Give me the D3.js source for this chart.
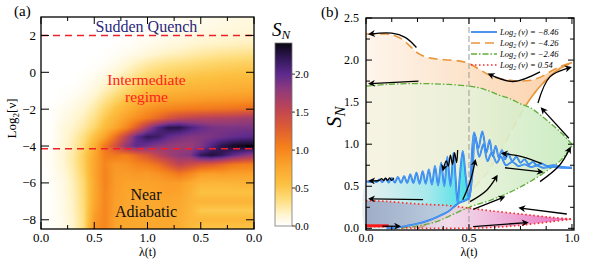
<!DOCTYPE html>
<html>
<head>
<meta charset="utf-8">
<script src="https://cdn.jsdelivr.net/npm/d3@7"></script>
<style>
  body { margin: 0; background: #fff; }
  svg { display: block; }
  svg text { font-family: "Liberation Serif", "DejaVu Serif", "Times New Roman", serif; }
</style>
</head>
<body>
<svg class="fig" width="607" height="260"></svg>
<script>
// ---------- panel (a) data : S_N ----------
const heatX = [0, 0.1, 0.2, 0.3, 0.4, 0.5, 0.6, 0.7, 0.8, 0.9, 1.0, 1.1, 1.2, 1.3, 1.4, 1.5, 1.6, 1.7, 1.8, 1.9, 2.0];
const heatY = [3, 2.5, 2, 1.5, 1, 0.5, 0, -0.5, -1, -1.5, -2, -2.5, -3, -3.5, -4, -4.5, -5, -5.5, -6, -6.5, -7, -7.5, -8, -8.5];
const heat = [
  [0,0,0,0,0,0,0,0,0,0,.01,.02,.03,.04,.05,.06,.07,.08,.09,.10,.10],
  [0,0,0,0,0,0,0,0,0,0,.02,.03,.04,.05,.06,.07,.08,.09,.10,.11,.12],
  [0,0,0,0,0,0,0,0,0,.02,.03,.04,.06,.07,.08,.10,.11,.12,.13,.14,.15],
  [0,0,0,0,0,0,0,.01,.02,.04,.06,.08,.10,.12,.14,.16,.17,.18,.19,.20,.20],
  [0,0,0,0,0,0,.01,.03,.05,.08,.12,.15,.18,.20,.23,.25,.27,.29,.30,.31,.32],
  [0,0,0,0,0,.01,.03,.06,.12,.18,.24,.28,.31,.33,.35,.38,.40,.42,.43,.44,.45],
  [0,0,0,0,.01,.03,.07,.13,.20,.28,.35,.39,.42,.45,.47,.49,.50,.52,.53,.54,.55],
  [0,0,0,0,.03,.07,.13,.21,.30,.38,.45,.50,.53,.55,.57,.59,.60,.62,.63,.64,.65],
  [0,0,.01,.02,.05,.11,.20,.30,.40,.50,.58,.62,.65,.67,.69,.70,.71,.72,.73,.74,.75],
  [0,0,.02,.05,.10,.18,.30,.42,.55,.65,.72,.77,.80,.82,.84,.86,.87,.88,.89,.90,.92],
  [0,.01,.05,.09,.15,.25,.40,.55,.68,.80,.90,.97,1.02,1.05,1.07,1.09,1.10,1.12,1.14,1.17,1.20],
  [0,.01,.07,.12,.20,.32,.50,.66,.82,.95,1.08,1.22,1.38,1.50,1.56,1.60,1.62,1.64,1.66,1.70,1.72],
  [0,.02,.10,.16,.25,.40,.60,.78,.98,1.30,1.70,2.05,2.25,2.25,2.10,1.98,1.90,1.88,1.88,1.88,1.88],
  [0,.02,.10,.20,.33,.55,.80,1.15,1.55,2.00,2.20,2.15,1.98,1.90,1.85,1.85,1.88,1.92,1.97,2.00,2.02],
  [.01,.03,.12,.22,.38,.68,1.10,1.40,1.80,2.00,1.92,1.82,1.78,1.75,1.75,1.85,2.05,2.25,2.35,2.40,2.40],
  [.01,.04,.13,.25,.45,.75,1.05,1.10,1.05,1.20,1.35,1.55,1.70,1.80,1.85,2.20,2.30,2.20,2.00,1.85,1.75],
  [.01,.04,.12,.25,.45,.78,1.00,.88,.92,1.00,1.05,1.15,1.35,1.55,1.45,1.35,1.30,1.20,1.10,1.05,1.05],
  [0,.03,.10,.22,.42,.78,1.02,.86,.85,.88,.86,.92,1.00,1.10,1.00,.85,.82,.85,.82,.82,.82],
  [0,.03,.08,.20,.38,.75,1.02,.85,.80,.80,.80,.82,.84,.84,.75,.66,.66,.66,.66,.68,.68],
  [0,.02,.08,.19,.37,.75,1.00,.84,.78,.78,.78,.80,.82,.80,.70,.55,.55,.55,.55,.55,.55],
  [0,.02,.07,.18,.36,.76,1.00,.82,.78,.76,.76,.76,.78,.76,.68,.66,.66,.66,.66,.66,.66],
  [0,.02,.07,.17,.35,.80,1.00,.82,.78,.76,.76,.76,.76,.74,.65,.50,.50,.50,.50,.50,.50],
  [0,.02,.06,.16,.34,.85,1.00,.80,.77,.76,.76,.76,.76,.72,.64,.64,.64,.64,.64,.64,.64],
  [0,.02,.06,.15,.33,.90,1.00,.80,.77,.76,.76,.76,.75,.72,.62,.52,.52,.52,.52,.52,.52]
];
const regimeLines = [2, -4.15];
const xTicksA = [0, 0.25, 0.5, 0.75, 1, 1.25, 1.5, 1.75, 2];
const yTicksA = [-8, -6, -4, -2, 0, 2];
const cbTicks = [0, 0.5, 1, 1.5, 2];

// ---------- panel (b) data ----------
const legendNu = [-8.46, -4.26, -2.46, 0.54];
const orangeBack = [[0,2.31],[0.05,2.31],[0.1,2.31],[0.14,2.29],[0.18,2.24],[0.22,2.15],[0.26,2.07],[0.3,2.03],[0.35,2.01],[0.4,2.0],[0.45,1.99],[0.5,1.96],[0.55,1.89],[0.6,1.82],[0.65,1.78],[0.7,1.76],[0.75,1.75],[0.8,1.76],[0.85,1.8],[0.9,1.87],[0.95,1.93],[1.0,1.97]];
const orangeFwd = [[0.25,0],[0.3,0.05],[0.35,0.12],[0.4,0.23],[0.45,0.33],[0.5,0.42],[0.55,0.55],[0.6,0.7],[0.65,0.9],[0.7,1.13],[0.75,1.35],[0.8,1.55],[0.85,1.7],[0.9,1.82],[0.95,1.91],[1.0,1.97]];
const greenBack = [[0,1.69],[0.1,1.71],[0.2,1.72],[0.3,1.72],[0.4,1.71],[0.5,1.69],[0.55,1.67],[0.6,1.63],[0.65,1.58],[0.7,1.54],[0.75,1.48],[0.8,1.43],[0.85,1.34],[0.9,1.24],[0.95,1.13],[1.0,1.0]];
const greenFwd = [[0.17,0],[0.25,0.03],[0.33,0.07],[0.4,0.14],[0.5,0.25],[0.6,0.33],[0.7,0.43],[0.8,0.56],[0.9,0.72],[0.95,0.82],[1.0,0.98]];
const redBack = [[0,0.33],[0.1,0.32],[0.25,0.29],[0.4,0.27],[0.5,0.24],[0.6,0.21],[0.75,0.17],[0.9,0.13],[1.0,0.11]];
const redFwd = [[0,0.02],[0.1,0.02],[0.2,0.005],[0.3,0],[0.5,0],[0.6,0.01],[0.7,0.025],[0.8,0.05],[0.9,0.08],[1.0,0.11]];
const redStart = [[0,0.03],[0.11,0.03]];
const blueFwd = [[0.1,0],[0.15,0.01],[0.2,0.03],[0.25,0.055],[0.3,0.09],[0.35,0.14],[0.4,0.2],[0.45,0.3],[0.48,0.33],[0.5,0.36],[0.51,0.7],[0.525,1.14],[0.545,0.95],[0.565,1.15],[0.585,0.9],[0.6,1.05],[0.615,0.86],[0.63,0.98],[0.645,0.84],[0.66,0.93],[0.675,0.82],[0.69,0.89],[0.71,0.8],[0.73,0.85],[0.75,0.78],[0.77,0.82],[0.79,0.76],[0.81,0.79],[0.83,0.75],[0.85,0.77],[0.88,0.74],[0.91,0.75],[0.95,0.73],[1.0,0.72]];
const blueBack = [[1.0,0.72],[0.95,0.72],[0.9,0.73],[0.86,0.72],[0.83,0.745],[0.8,0.73],[0.77,0.76],[0.74,0.74],[0.71,0.79],[0.68,0.75],[0.655,0.85],[0.635,0.78],[0.61,0.9],[0.59,0.8],[0.57,1.0],[0.55,0.85],[0.53,1.1],[0.515,0.6],[0.5,0.35],[0.485,0.6],[0.47,0.92],[0.455,0.6],[0.445,0.3],[0.435,0.6],[0.425,0.9],[0.41,0.5],[0.395,0.85],[0.38,0.5],[0.365,0.78],[0.35,0.51],[0.335,0.74],[0.32,0.52],[0.305,0.7],[0.29,0.53],[0.275,0.68],[0.26,0.53],[0.245,0.66],[0.23,0.54],[0.215,0.64],[0.2,0.54],[0.185,0.62],[0.17,0.54],[0.155,0.61],[0.14,0.545],[0.125,0.6],[0.11,0.545],[0.095,0.59],[0.08,0.55],[0.065,0.58],[0.05,0.55],[0.035,0.57],[0.02,0.55],[0,0.56]];
const arrows = [
  [[0.245,2.15],[0.19,2.27],[0.125,2.32],[0.02,2.31]],
  [[0.255,1.75],[0.02,1.72]],
  [[0.845,1.86],[0.715,1.745],[0.6,1.83]],
  [[0.835,1.49],[0.893,1.8],[0.99,1.91]],
  [[0.985,1.07],[0.855,1.42]],
  [[0.845,0.555],[0.94,0.75],[0.99,0.95]],
  [[0.853,0.77],[0.76,0.85],[0.665,0.89]],
  [[0.675,0.72],[0.853,0.67]],
  [[0.47,0.34],[0.505,0.55],[0.53,0.8]],
  [[0.505,0.317],[0.585,0.45],[0.634,0.614]],
  [[0.52,0.226],[0.667,0.369]],
  [[0.975,0.17],[0.75,0.24]],
  [[0.52,0.02],[0.78,0.068]],
  [[0.277,0.34],[0.02,0.35]],
  [[0.08,0.025],[0.16,0.025]],
  [[0.135,0.6],[0.125,0.57],[0.115,0.6],[0.105,0.57],[0.095,0.595],[0.085,0.57],[0.075,0.59],[0.065,0.57],[0.02,0.565]],
  [[0.445,0.93],[0.44,0.78],[0.43,0.9],[0.42,0.76],[0.41,0.87],[0.4,0.74],[0.39,0.8],[0.375,0.7]]
];
const xTicksB = [0, 0.125, 0.25, 0.375, 0.5, 0.625, 0.75, 0.875, 1];
const yTicksB = [0, 0.25, 0.5, 0.75, 1, 1.25, 1.5, 1.75, 2, 2.25, 2.5];

// ---------- colour map (reversed sunset) ----------
const cmapStops = [0, 0.15, 0.35, 0.55, 0.8, 1.05, 1.3, 1.55, 1.8, 2.0, 2.2, 2.41];
const cmapColors = ['#ffffff','#fff5cf','#fedd7c','#fcc142','#fba32b','#f47f1c','#dd5b33','#bd4456','#8e3a7c','#5e2a8d','#33185a','#0b0611'];
const color = d3.scaleLinear().domain(cmapStops).range(cmapColors).clamp(true);

const svg = d3.select('.fig').attr('font-family', 'Liberation Serif, DejaVu Serif, serif');
const defs = svg.append('defs');
const f1 = d3.format('.1f');

// ================= panel (a) =================
const xA = d3.scaleLinear().domain([0, 2]).range([41, 254]);
const yA = d3.scaleLinear().domain([-8.5, 3]).range([229, 17]);

// raster of the grid, smoothed bilinearly to screen pixels
const W = Math.round(xA(2) - xA(0)), H = Math.round(yA(-8.5) - yA(3));
const cv = document.createElement('canvas');
cv.width = W; cv.height = H;
const ctx = cv.getContext('2d');
const img = ctx.createImageData(W, H);
const gi = d3.scaleLinear().domain([heatX[0], heatX[heatX.length - 1]]).range([0, heatX.length - 1]).clamp(true);
const gj = d3.scaleLinear().domain([heatY[0], heatY[heatY.length - 1]]).range([0, heatY.length - 1]).clamp(true);
for (let py = 0; py < H; py++) {
  const fj = gj(yA.invert(yA(3) + py + 0.5));
  const j0 = Math.min(Math.floor(fj), heatY.length - 2), tj = fj - j0;
  for (let px = 0; px < W; px++) {
    const fi = gi(xA.invert(xA(0) + px + 0.5));
    const i0 = Math.min(Math.floor(fi), heatX.length - 2), ti = fi - i0;
    const v = (heat[j0][i0] * (1 - ti) + heat[j0][i0 + 1] * ti) * (1 - tj)
            + (heat[j0 + 1][i0] * (1 - ti) + heat[j0 + 1][i0 + 1] * ti) * tj;
    const c = d3.rgb(color(v));
    const k = 4 * (py * W + px);
    img.data[k] = c.r; img.data[k + 1] = c.g; img.data[k + 2] = c.b; img.data[k + 3] = 255;
  }
}
ctx.putImageData(img, 0, 0);

const gA = svg.append('g');
gA.append('image')
  .attr('href', cv.toDataURL())
  .attr('x', xA(0)).attr('y', yA(3))
  .attr('width', W).attr('height', H)
  .attr('preserveAspectRatio', 'none');

gA.selectAll('line.regime').data(regimeLines)
  .enter().append('line')
  .attr('x1', xA(0)).attr('x2', xA(2))
  .attr('y1', d => yA(d)).attr('y2', d => yA(d))
  .attr('stroke', '#f0202a').attr('stroke-width', 1.4)
  .attr('stroke-dasharray', '7,5');

gA.append('text').attr('x', 146.5).attr('y', 31.5).attr('text-anchor', 'middle')
  .attr('font-size', 16).attr('fill', '#28287e').text('Sudden Quench');
gA.append('text').attr('x', 146.5).attr('y', 85).attr('text-anchor', 'middle')
  .attr('font-size', 15.5).attr('fill', '#ff2020').text('Intermediate');
gA.append('text').attr('x', 146.5).attr('y', 102).attr('text-anchor', 'middle')
  .attr('font-size', 15.5).attr('fill', '#ff2020').text('regime');
gA.append('text').attr('x', 146).attr('y', 200).attr('text-anchor', 'middle')
  .attr('font-size', 16).attr('fill', '#111').text('Near');
gA.append('text').attr('x', 146).attr('y', 217).attr('text-anchor', 'middle')
  .attr('font-size', 16).attr('fill', '#111').text('Adiabatic');

// frame and inward ticks
gA.append('rect')
  .attr('x', xA(0)).attr('y', yA(3))
  .attr('width', xA(2) - xA(0)).attr('height', yA(-8.5) - yA(3))
  .attr('fill', 'none').attr('stroke', '#000').attr('stroke-width', 1.3);
xTicksA.forEach(v => {
  const len = v % 0.5 === 0 ? 7 : 4;
  gA.append('line').attr('x1', xA(v)).attr('x2', xA(v)).attr('y1', yA(-8.5)).attr('y2', yA(-8.5) - len).attr('stroke', '#000');
  gA.append('line').attr('x1', xA(v)).attr('x2', xA(v)).attr('y1', yA(3)).attr('y2', yA(3) + len).attr('stroke', '#000');
  if (v % 0.5 === 0) {
    gA.append('text').attr('x', xA(v)).attr('y', 242).attr('text-anchor', 'middle')
      .attr('font-size', 13).text(f1(v <= 1 ? v : 2 - v));
  }
});
yTicksA.forEach(v => {
  gA.append('line').attr('x1', xA(0)).attr('x2', xA(0) + 8).attr('y1', yA(v)).attr('y2', yA(v)).attr('stroke', '#000');
  gA.append('line').attr('x1', xA(2)).attr('x2', xA(2) - 8).attr('y1', yA(v)).attr('y2', yA(v)).attr('stroke', '#000');
  gA.append('text').attr('x', 36).attr('y', yA(v) + 4.5).attr('text-anchor', 'end')
    .attr('font-size', 13).text(d3.format('d')(v));
});
gA.append('text').attr('x', 14).attr('y', 16).attr('font-size', 15).text('(a)');
gA.append('text').attr('x', xA(1)).attr('y', 256).attr('text-anchor', 'middle')
  .attr('font-size', 12).text('λ(t)');
const ylabA = gA.append('text').attr('transform', 'translate(16,' + yA(-2.5) + ') rotate(-90)')
  .attr('text-anchor', 'middle').attr('font-size', 13);
ylabA.append('tspan').text('Log');
ylabA.append('tspan').attr('font-size', 9).attr('dy', 3).text('2');
ylabA.append('tspan').attr('dy', -3).text('[ν]');

// colour bar
const cb = d3.scaleLinear().domain([0, 2.41]).range([226, 43]);
const cbGrad = defs.append('linearGradient').attr('id', 'cbGrad')
  .attr('x1', 0).attr('y1', 1).attr('x2', 0).attr('y2', 0);
cmapStops.forEach((s, i) => cbGrad.append('stop')
  .attr('offset', s / 2.41).attr('stop-color', cmapColors[i]));
gA.append('rect').attr('x', 275).attr('y', cb(2.41)).attr('width', 17).attr('height', cb(0) - cb(2.41))
  .attr('fill', 'url(#cbGrad)').attr('stroke', '#777').attr('stroke-width', 0.8);
cbTicks.forEach(v => {
  gA.append('line').attr('x1', 292).attr('x2', 295).attr('y1', cb(v)).attr('y2', cb(v)).attr('stroke', '#333');
  gA.append('text').attr('x', 295).attr('y', cb(v) + 4).attr('font-size', 11).text(f1(v));
});
const cbt = gA.append('text').attr('x', 272).attr('y', 36).attr('font-size', 19).attr('font-style', 'italic');
cbt.append('tspan').text('S');
cbt.append('tspan').attr('font-size', 13).attr('dy', 3).text('N');

// ================= panel (b) =================
const xB = d3.scaleLinear().domain([0, 1.01]).range([366, 574]);
const yB = d3.scaleLinear().domain([-0.02, 2.5]).range([230, 18]);
const gB = svg.append('g');

const smooth = d3.line().x(d => xB(d[0])).y(d => yB(d[1])).curve(d3.curveCatmullRom);

function grad(id, stops, x2) {
  const g = defs.append('linearGradient').attr('id', id)
    .attr('gradientUnits', 'userSpaceOnUse')
    .attr('x1', xB(0)).attr('y1', 0).attr('x2', xB(x2)).attr('y2', 0);
  stops.forEach(s => g.append('stop').attr('offset', s[0]).attr('stop-color', s[1]).attr('stop-opacity', s[2]));
}
grad('gOrange', [[0, '#fef5ec', 1], [1, '#fbd0a8', 1]], 1);
grad('gGreen', [[0, '#f6f3e3', 0.9], [0.5, '#e7f1d8', 0.9], [1, '#c6ebbd', 0.9]], 1);
grad('gBlue', [[0, '#e6eff1', 0.9], [0.6, '#9fe8ee', 0.9], [1, '#33dde8', 0.9]], 0.5);
grad('gPink', [[0, '#5a6ba0', 0.5], [0.4, '#e6bfda', 0.55], [1, '#e64db0', 0.85]], 1);

// fills
gB.append('path')
  .attr('d', smooth(orangeBack.concat(orangeFwd.slice().reverse(), [[0, 0]])))
  .attr('fill', 'url(#gOrange)');
gB.append('path').attr('d', smooth(orangeFwd))
  .attr('fill', 'none').attr('stroke', '#e8963a').attr('stroke-width', 1.6).attr('stroke-dasharray', '9,5');
gB.append('path')
  .attr('d', smooth(greenBack.concat(greenFwd.slice().reverse(), [[0, 0]])))
  .attr('fill', 'url(#gGreen)');
const blueTop = blueBack.filter(d => d[0] <= 0.5);
const blueLow = [[0, 0]].concat(blueFwd.filter(d => d[0] <= 0.5));
gB.append('path')
  .attr('d', smooth(blueTop.concat(blueLow)))
  .attr('fill', 'url(#gBlue)');
gB.append('path')
  .attr('d', smooth(redBack.concat(redFwd.slice().reverse())))
  .attr('fill', 'url(#gPink)');

// vertical guide at lambda = 0.5
gB.append('line').attr('x1', xB(0.5)).attr('x2', xB(0.5)).attr('y1', yB(2.5)).attr('y2', yB(-0.02))
  .attr('stroke', '#999').attr('stroke-width', 1).attr('stroke-dasharray', '6,3');

// curves
const styles = [
  {stroke: '#e8963a', w: 1.6, dash: '9,5'},
  {stroke: '#5fae3a', w: 1.3, dash: '6,2,1.5,2'},
  {stroke: '#ff2a2a', w: 1.7, dash: '1.5,2.5'}
];
gB.append('path').attr('d', smooth(greenFwd)).attr('fill', 'none')
  .attr('stroke', styles[1].stroke).attr('stroke-width', styles[1].w).attr('stroke-dasharray', styles[1].dash);
gB.append('path').attr('d', smooth(greenBack)).attr('fill', 'none')
  .attr('stroke', styles[1].stroke).attr('stroke-width', styles[1].w).attr('stroke-dasharray', styles[1].dash);
gB.append('path').attr('d', smooth(orangeBack)).attr('fill', 'none')
  .attr('stroke', styles[0].stroke).attr('stroke-width', styles[0].w).attr('stroke-dasharray', styles[0].dash);
gB.append('path').attr('d', smooth(orangeFwd.filter(d => d[0] >= 0.8))).attr('fill', 'none')
  .attr('stroke', styles[0].stroke).attr('stroke-width', styles[0].w).attr('stroke-dasharray', styles[0].dash);
[redBack, redFwd].forEach(s => gB.append('path').attr('d', smooth(s)).attr('fill', 'none')
  .attr('stroke', styles[2].stroke).attr('stroke-width', styles[2].w).attr('stroke-dasharray', styles[2].dash));
gB.append('path').attr('d', smooth(redStart)).attr('fill', 'none')
  .attr('stroke', '#ff1a1a').attr('stroke-width', 3);
[blueFwd, blueBack].forEach(s => {
  gB.append('path').attr('d', smooth(s)).attr('fill', 'none')
    .attr('stroke', '#2479ec').attr('stroke-width', 1.9).attr('stroke-linejoin', 'round');
  gB.append('path').attr('d', smooth(s)).attr('fill', 'none')
    .attr('stroke', '#72b8ff').attr('stroke-width', 0.6);
});

// arrows
defs.append('marker').attr('id', 'head')
  .attr('viewBox', '0 0 10 10').attr('refX', 7).attr('refY', 5)
  .attr('markerWidth', 9).attr('markerHeight', 7)
  .attr('markerUnits', 'userSpaceOnUse').attr('orient', 'auto')
  .append('path').attr('d', 'M0,0 L10,5 L0,10 L3,5 Z').attr('fill', '#000');
gB.selectAll('path.arrow').data(arrows)
  .enter().append('path')
  .attr('class', 'arrow')
  .attr('d', smooth)
  .attr('fill', 'none').attr('stroke', '#000').attr('stroke-width', 1.3)
  .attr('marker-end', 'url(#head)');

// frame and ticks
gB.append('rect')
  .attr('x', xB(0)).attr('y', yB(2.5))
  .attr('width', xB(1.01) - xB(0)).attr('height', yB(-0.02) - yB(2.5))
  .attr('fill', 'none').attr('stroke', '#000').attr('stroke-width', 1.3);
xTicksB.forEach(v => {
  const len = v % 0.5 === 0 ? 6 : 4;
  gB.append('line').attr('x1', xB(v)).attr('x2', xB(v)).attr('y1', yB(-0.02)).attr('y2', yB(-0.02) - len).attr('stroke', '#000');
  gB.append('line').attr('x1', xB(v)).attr('x2', xB(v)).attr('y1', yB(2.5)).attr('y2', yB(2.5) + len).attr('stroke', '#000');
  if (v % 0.5 === 0) {
    gB.append('text').attr('x', xB(v)).attr('y', 242).attr('text-anchor', 'middle')
      .attr('font-size', 12).text(f1(v));
  }
});
yTicksB.forEach(v => {
  const len = v % 0.5 === 0 ? 6 : 4;
  gB.append('line').attr('x1', xB(0)).attr('x2', xB(0) + len).attr('y1', yB(v)).attr('y2', yB(v)).attr('stroke', '#000');
  gB.append('line').attr('x1', xB(1.01)).attr('x2', xB(1.01) - len).attr('y1', yB(v)).attr('y2', yB(v)).attr('stroke', '#000');
  if (v % 0.5 === 0) {
    gB.append('text').attr('x', 359).attr('y', yB(v) + 4).attr('text-anchor', 'end')
      .attr('font-size', 12).text(f1(v));
  }
});
gB.append('text').attr('x', 321).attr('y', 17).attr('font-size', 15).text('(b)');
gB.append('text').attr('x', xB(0.5)).attr('y', 256).attr('text-anchor', 'middle')
  .attr('font-size', 12).text('λ(t)');
const ylabB = gB.append('text').attr('transform', 'translate(341,117) rotate(-90)')
  .attr('text-anchor', 'middle').attr('font-size', 22).attr('font-style', 'italic');
ylabB.append('tspan').text('S');
ylabB.append('tspan').attr('font-size', 15).attr('dy', 4).text('N');

// legend
const legStyles = [
  {stroke: '#2479ec', w: 1.6, dash: null},
  styles[0], styles[1], styles[2]
];
legendNu.forEach((nu, i) => {
  const y = 32 + i * 11;
  const st = legStyles[i];
  gB.append('line').attr('x1', 471).attr('x2', 497).attr('y1', y).attr('y2', y)
    .attr('stroke', st.stroke).attr('stroke-width', st.w).attr('stroke-dasharray', st.dash);
  const t = gB.append('text').attr('x', 500).attr('y', y + 3).attr('font-size', 8.5).attr('font-style', 'italic');
  t.append('tspan').text('Log');
  t.append('tspan').attr('font-size', 6).attr('dy', 2).text('2');
  t.append('tspan').attr('dy', -2).text(' (ν) = ' + d3.format('.2f')(nu));
});
</script>
</body>
</html>
